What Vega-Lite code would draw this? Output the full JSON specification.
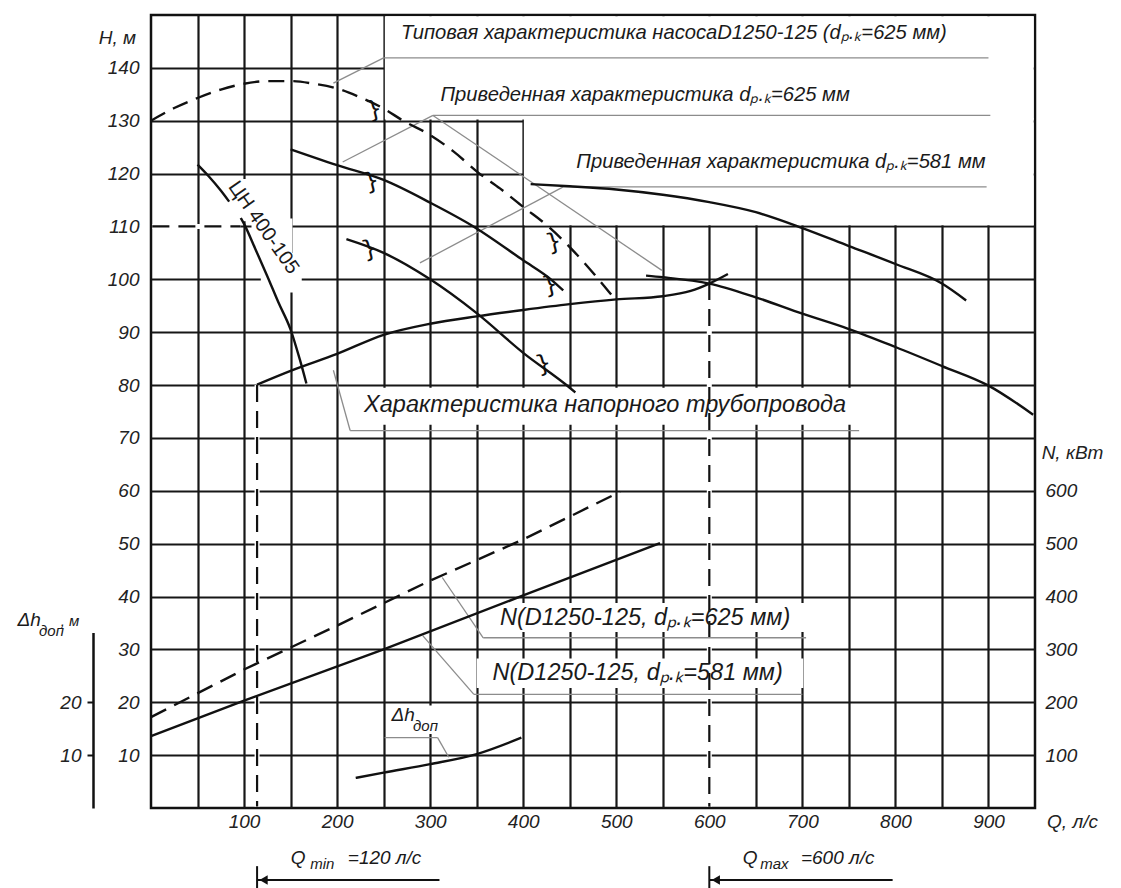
{
  "$schema": "https://vega.github.io/schema/vega-lite/v6.json",
  "width": 884,
  "height": 793,
  "autosize": {"type": "none"},
  "padding": {"left": 151, "top": 15, "right": 86, "bottom": 80},
  "background": "#ffffff",
  "config": {
    "view": {"stroke": "#111111", "strokeWidth": 2.5},
    "font": "Liberation Sans",
    "axis": {
      "labelFont": "Liberation Sans", "labelFontStyle": "italic", "labelFontSize": 19, "labelColor": "#222222",
      "titleFont": "Liberation Sans", "titleFontStyle": "italic", "titleFontWeight": "normal", "titleFontSize": 19, "titleColor": "#222222"
    },
    "text": {"font": "Liberation Sans", "fontStyle": "italic", "color": "#1a1a1a"}
  },
  "datasets": {
    "masks": [
      {"q0": 251.3, "q1": 948.6, "h0": 130.25, "h1": 149.75},
      {"q0": 400.7, "q1": 948.6, "h0": 110.25, "h1": 130.5},
      {"q0": 225, "q1": 753, "h0": 72.5, "h1": 79.5},
      {"q0": 358, "q1": 705, "h0": 33.3, "h1": 38.8},
      {"q0": 350, "q1": 701, "h0": 22.7, "h1": 28.3},
      {"q0": 262, "q1": 309, "h0": 14, "h1": 19.4},
      {"q0": 88, "q1": 113, "h0": 111, "h1": 119},
      {"q0": 108, "q1": 152, "h0": 104, "h1": 111.5},
      {"q0": 118, "q1": 162, "h0": 97.5, "h1": 105}
    ],
    "guides": [
      {"g": "a", "q": 1.5, "h": 110}, {"g": "a", "q": 96, "h": 110},
      {"g": "b", "q": 114, "h": 80}, {"g": "b", "q": 114, "h": 0.3},
      {"g": "c", "q": 600, "h": 99.3}, {"g": "c", "q": 600, "h": 0.3}
    ],
    "leaders": [
      {"g": "U1", "q": 250, "h": 141.9}, {"g": "U1", "q": 900, "h": 141.9},
      {"g": "L1", "q": 250, "h": 141.9}, {"g": "L1", "q": 196, "h": 137.1},
      {"g": "U2", "q": 303, "h": 131}, {"g": "U2", "q": 902, "h": 131},
      {"g": "L2a", "q": 303, "h": 131}, {"g": "L2a", "q": 206, "h": 122.2},
      {"g": "L2b", "q": 303, "h": 131}, {"g": "L2b", "q": 549, "h": 101.7},
      {"g": "U3", "q": 443, "h": 117.5}, {"g": "U3", "q": 898, "h": 117.5},
      {"g": "L3", "q": 443, "h": 117.5}, {"g": "L3", "q": 289, "h": 103.1},
      {"g": "U4", "q": 214, "h": 71.4}, {"g": "U4", "q": 761, "h": 71.4},
      {"g": "L4", "q": 214, "h": 71.4}, {"g": "L4", "q": 196, "h": 82.8},
      {"g": "U5", "q": 357, "h": 32.2}, {"g": "U5", "q": 704, "h": 32.2},
      {"g": "L5", "q": 357, "h": 32.2}, {"g": "L5", "q": 313, "h": 43.6},
      {"g": "U6", "q": 347, "h": 21.5}, {"g": "U6", "q": 700, "h": 21.5},
      {"g": "L6", "q": 347, "h": 21.5}, {"g": "L6", "q": 292, "h": 32.6},
      {"g": "U7", "q": 251, "h": 13.3}, {"g": "U7", "q": 308, "h": 13.3},
      {"g": "L7", "q": 308, "h": 13.3}, {"g": "L7", "q": 320, "h": 9.6}
    ],
    "curves": [
      {"s": "typ625", "q": 0, "h": 130}, {"s": "typ625", "q": 25, "h": 132.4}, {"s": "typ625", "q": 50, "h": 134.3},
      {"s": "typ625", "q": 75, "h": 135.9}, {"s": "typ625", "q": 100, "h": 137}, {"s": "typ625", "q": 125, "h": 137.5},
      {"s": "typ625", "q": 150, "h": 137.5}, {"s": "typ625", "q": 175, "h": 137}, {"s": "typ625", "q": 200, "h": 136.1},
      {"s": "typ625", "q": 225, "h": 134.4}, {"s": "typ625", "q": 250, "h": 132.3}, {"s": "typ625", "q": 271, "h": 130},
      {"s": "typ625", "q": 300, "h": 127.3}, {"s": "typ625", "q": 325, "h": 124.2}, {"s": "typ625", "q": 353, "h": 120},
      {"s": "typ625", "q": 375, "h": 117.2}, {"s": "typ625", "q": 400, "h": 113.7}, {"s": "typ625", "q": 427, "h": 110},
      {"s": "typ625", "q": 450, "h": 106.1}, {"s": "typ625", "q": 481, "h": 100}, {"s": "typ625", "q": 497, "h": 96.6},
      {"s": "pr625a", "q": 150, "h": 124.6}, {"s": "pr625a", "q": 200, "h": 121.6}, {"s": "pr625a", "q": 250, "h": 118.8},
      {"s": "pr625a", "q": 300, "h": 114.5}, {"s": "pr625a", "q": 346.5, "h": 110}, {"s": "pr625a", "q": 400, "h": 103.6},
      {"s": "pr625a", "q": 429.7, "h": 100}, {"s": "pr625a", "q": 443, "h": 97.9},
      {"s": "pr625b", "q": 532, "h": 100.7}, {"s": "pr625b", "q": 550, "h": 100.4}, {"s": "pr625b", "q": 600, "h": 99.2},
      {"s": "pr625b", "q": 650, "h": 96.6}, {"s": "pr625b", "q": 700, "h": 93.5}, {"s": "pr625b", "q": 750, "h": 90.6},
      {"s": "pr625b", "q": 800, "h": 87.2}, {"s": "pr625b", "q": 850, "h": 83.6}, {"s": "pr625b", "q": 900, "h": 79.9},
      {"s": "pr625b", "q": 948, "h": 74.4},
      {"s": "pr581a", "q": 210, "h": 107.6}, {"s": "pr581a", "q": 250, "h": 105}, {"s": "pr581a", "q": 300, "h": 100},
      {"s": "pr581a", "q": 350, "h": 93.6}, {"s": "pr581a", "q": 400, "h": 86.1}, {"s": "pr581a", "q": 450, "h": 79.5},
      {"s": "pr581a", "q": 456, "h": 78.6},
      {"s": "pr581b", "q": 408, "h": 118}, {"s": "pr581b", "q": 450, "h": 117.6}, {"s": "pr581b", "q": 500, "h": 117},
      {"s": "pr581b", "q": 550, "h": 116}, {"s": "pr581b", "q": 600, "h": 114.6}, {"s": "pr581b", "q": 650, "h": 112.7},
      {"s": "pr581b", "q": 700, "h": 109.7}, {"s": "pr581b", "q": 750, "h": 106.3}, {"s": "pr581b", "q": 800, "h": 102.9},
      {"s": "pr581b", "q": 850, "h": 99.2}, {"s": "pr581b", "q": 876, "h": 96},
      {"s": "pipe", "q": 114, "h": 80.1}, {"s": "pipe", "q": 150, "h": 82.7}, {"s": "pipe", "q": 200, "h": 85.9},
      {"s": "pipe", "q": 250, "h": 89.5}, {"s": "pipe", "q": 300, "h": 91.6}, {"s": "pipe", "q": 350, "h": 93},
      {"s": "pipe", "q": 400, "h": 94.2}, {"s": "pipe", "q": 450, "h": 95.3}, {"s": "pipe", "q": 500, "h": 96.2},
      {"s": "pipe", "q": 550, "h": 96.8}, {"s": "pipe", "q": 580, "h": 97.8}, {"s": "pipe", "q": 600, "h": 99.2},
      {"s": "pipe", "q": 620, "h": 101},
      {"s": "cn1", "q": 50, "h": 121.7}, {"s": "cn1", "q": 62, "h": 119.5}, {"s": "cn1", "q": 75, "h": 116.8},
      {"s": "cn1", "q": 84, "h": 114.7},
      {"s": "cn2", "q": 96.5, "h": 111.6}, {"s": "cn2", "q": 100, "h": 110.5}, {"s": "cn2", "q": 112, "h": 105.8},
      {"s": "cn2", "q": 125, "h": 100.6}, {"s": "cn2", "q": 137, "h": 95.6}, {"s": "cn2", "q": 150, "h": 90.5},
      {"s": "cn2", "q": 160, "h": 84.8}, {"s": "cn2", "q": 167, "h": 80.3}
    ],
    "ticks": [
      {"q": 240, "h": 132}, {"q": 237, "h": 118.4}, {"q": 235, "h": 105.6},
      {"q": 433, "h": 106.9}, {"q": 429, "h": 98.8}, {"q": 422, "h": 83.9}
    ],
    "labels": [
      {"t": "Типовая характеристика насосаD1250-125 (dₚ.ₖ=625 мм)", "q": 562, "h": 146.6, "sz": "T"},
      {"t": "Приведенная характеристика dₚ.ₖ=625 мм", "q": 531, "h": 134.8, "sz": "T"},
      {"t": "Приведенная характеристика dₚ.ₖ=581 мм", "q": 677, "h": 122.2, "sz": "T"},
      {"t": "Характеристика напорного трубопровода", "q": 488, "h": 76.2, "sz": "L"},
      {"t": "N(D1250-125, dₚ.ₖ=625 мм)", "q": 531, "h": 35.9, "sz": "L"},
      {"t": "N(D1250-125, dₚ.ₖ=581 мм)", "q": 523, "h": 25.5, "sz": "L"},
      {"t": "Δh", "q": 271, "h": 17.6, "sz": "M"},
      {"t": "доп", "q": 295, "h": 15.6, "sz": "S"},
      {"t": "Δh", "q": -131, "h": 35.6, "sz": "M"},
      {"t": "доп", "q": -107, "h": 33.4, "sz": "S"},
      {"t": ", м", "q": -87, "h": 35.4, "sz": "S"},
      {"t": "Q", "q": 158, "h": -9.4, "sz": "M"},
      {"t": "min", "q": 184, "h": -10.6, "sz": "S"},
      {"t": "=120 л/с", "q": 251, "h": -9.4, "sz": "M"},
      {"t": "Q", "q": 644, "h": -9.4, "sz": "M"},
      {"t": "max", "q": 670, "h": -10.6, "sz": "S"},
      {"t": "=600 л/с", "q": 738, "h": -9.4, "sz": "M"}
    ],
    "cnlabel": [{"t": "ЦН 400-105", "q": 121, "h": 109.8}],
    "qlines": [
      {"g": "amin", "q": 114, "h": -13.6}, {"g": "amin", "q": 310, "h": -13.6},
      {"g": "tmin", "q": 114, "h": -11}, {"g": "tmin", "q": 114, "h": -15.3},
      {"g": "amax", "q": 600, "h": -13.6}, {"g": "amax", "q": 797, "h": -13.6},
      {"g": "tmax", "q": 600, "h": -11}, {"g": "tmax", "q": 600, "h": -15.3}
    ],
    "heads": [{"q": 121, "h": -13.6}, {"q": 607, "h": -13.6}],
    "nlines": [
      {"s": "N625", "q": 0, "n": 172}, {"s": "N625", "q": 100, "n": 262}, {"s": "N625", "q": 200, "n": 345},
      {"s": "N625", "q": 300, "n": 430}, {"s": "N625", "q": 400, "n": 508}, {"s": "N625", "q": 504, "n": 598},
      {"s": "N581", "q": 0, "n": 136}, {"s": "N581", "q": 100, "n": 203}, {"s": "N581", "q": 250, "n": 300},
      {"s": "N581", "q": 400, "n": 402}, {"s": "N581", "q": 547, "n": 501}
    ],
    "dh": [
      {"q": 220, "d": 5.7}, {"q": 250, "d": 6.7}, {"q": 300, "d": 8.3}, {"q": 350, "d": 10.2}, {"q": 398, "d": 13.3}
    ]
  },
  "layer": [
    {
      "layer": [
        {
          "data": {"name": "masks"},
          "mark": {"type": "rect", "fill": "#ffffff"},
          "encoding": {
            "x": {"field": "q0", "type": "quantitative", "scale": {"domain": [0, 950], "nice": false, "zero": false},
              "axis": {"values": [50, 100, 150, 200, 250, 300, 350, 400, 450, 500, 550, 600, 650, 700, 750, 800, 850, 900],
                "labelExpr": "datum.value % 100 === 0 ? datum.label : ''", "grid": true, "gridColor": "#161616", "gridWidth": 2.2,
                "domain": false, "ticks": false, "labelPadding": 4, "labelOverlap": false, "labelFlush": false, "labelBound": false,
                "title": "Q, л/с", "titleX": 921, "titleY": 13, "titleAlign": "center", "titleBaseline": "middle"}},
            "x2": {"field": "q1"},
            "y": {"field": "h0", "type": "quantitative", "scale": {"domain": [0, 150], "nice": false},
              "axis": {"values": [10, 20, 30, 40, 50, 60, 70, 80, 90, 100, 110, 120, 130, 140], "grid": true, "gridColor": "#161616", "gridWidth": 2.2,
                "domain": false, "ticks": false, "labelPadding": 12, "labelOverlap": false, "labelFlush": false, "labelBound": false,
                "title": "H, м", "titleAngle": 0, "titleX": -34, "titleY": 22, "titleAlign": "center", "titleBaseline": "middle"}},
            "y2": {"field": "h1"}
          }
        },
        {
          "data": {"name": "guides"},
          "mark": {"type": "line", "color": "#ffffff", "strokeWidth": 5},
          "encoding": {
            "x": {"field": "q", "type": "quantitative", "scale": {"domain": [0, 950], "nice": false, "zero": false}},
            "y": {"field": "h", "type": "quantitative", "scale": {"domain": [0, 150], "nice": false}},
            "detail": {"field": "g"}
          }
        },
        {
          "data": {"name": "guides"},
          "mark": {"type": "line", "color": "#111111", "strokeWidth": 2.2, "strokeDash": [17, 9]},
          "encoding": {
            "x": {"field": "q", "type": "quantitative", "scale": {"domain": [0, 950], "nice": false, "zero": false}},
            "y": {"field": "h", "type": "quantitative", "scale": {"domain": [0, 150], "nice": false}},
            "detail": {"field": "g"}
          }
        },
        {
          "data": {"name": "leaders"},
          "mark": {"type": "line", "color": "#8c8c8c", "strokeWidth": 1.3},
          "encoding": {
            "x": {"field": "q", "type": "quantitative", "scale": {"domain": [0, 950], "nice": false, "zero": false}},
            "y": {"field": "h", "type": "quantitative", "scale": {"domain": [0, 150], "nice": false}},
            "detail": {"field": "g"}
          }
        },
        {
          "data": {"name": "curves"},
          "transform": [{"filter": "datum.s === 'typ625'"}],
          "mark": {"type": "line", "color": "#111111", "strokeWidth": 2.4, "strokeDash": [16, 9], "interpolate": "monotone"},
          "encoding": {
            "x": {"field": "q", "type": "quantitative", "scale": {"domain": [0, 950], "nice": false, "zero": false}},
            "y": {"field": "h", "type": "quantitative", "scale": {"domain": [0, 150], "nice": false}},
            "detail": {"field": "s"}
          }
        },
        {
          "data": {"name": "curves"},
          "transform": [{"filter": "datum.s !== 'typ625'"}],
          "mark": {"type": "line", "color": "#111111", "strokeWidth": 2.4, "interpolate": "monotone"},
          "encoding": {
            "x": {"field": "q", "type": "quantitative", "scale": {"domain": [0, 950], "nice": false, "zero": false}},
            "y": {"field": "h", "type": "quantitative", "scale": {"domain": [0, 150], "nice": false}},
            "detail": {"field": "s"}
          }
        },
        {
          "data": {"name": "ticks"},
          "mark": {"type": "text", "text": "}", "fontSize": 24, "fontStyle": "normal", "font": "DejaVu Sans", "angle": -15, "color": "#111111", "align": "center", "baseline": "middle"},
          "encoding": {
            "x": {"field": "q", "type": "quantitative", "scale": {"domain": [0, 950], "nice": false, "zero": false}},
            "y": {"field": "h", "type": "quantitative", "scale": {"domain": [0, 150], "nice": false}}
          }
        },
        {
          "data": {"name": "labels"},
          "transform": [{"filter": "datum.sz === 'T'"}],
          "mark": {"type": "text", "fontSize": 20.2, "align": "center", "baseline": "middle"},
          "encoding": {
            "x": {"field": "q", "type": "quantitative", "scale": {"domain": [0, 950], "nice": false, "zero": false}},
            "y": {"field": "h", "type": "quantitative", "scale": {"domain": [0, 150], "nice": false}},
            "text": {"field": "t"}
          }
        },
        {
          "data": {"name": "labels"},
          "transform": [{"filter": "datum.sz === 'L'"}],
          "mark": {"type": "text", "fontSize": 23.5, "align": "center", "baseline": "middle"},
          "encoding": {
            "x": {"field": "q", "type": "quantitative", "scale": {"domain": [0, 950], "nice": false, "zero": false}},
            "y": {"field": "h", "type": "quantitative", "scale": {"domain": [0, 150], "nice": false}},
            "text": {"field": "t"}
          }
        },
        {
          "data": {"name": "labels"},
          "transform": [{"filter": "datum.sz === 'M'"}],
          "mark": {"type": "text", "fontSize": 19, "align": "center", "baseline": "middle"},
          "encoding": {
            "x": {"field": "q", "type": "quantitative", "scale": {"domain": [0, 950], "nice": false, "zero": false}},
            "y": {"field": "h", "type": "quantitative", "scale": {"domain": [0, 150], "nice": false}},
            "text": {"field": "t"}
          }
        },
        {
          "data": {"name": "labels"},
          "transform": [{"filter": "datum.sz === 'S'"}],
          "mark": {"type": "text", "fontSize": 15, "align": "center", "baseline": "middle"},
          "encoding": {
            "x": {"field": "q", "type": "quantitative", "scale": {"domain": [0, 950], "nice": false, "zero": false}},
            "y": {"field": "h", "type": "quantitative", "scale": {"domain": [0, 150], "nice": false}},
            "text": {"field": "t"}
          }
        },
        {
          "data": {"name": "cnlabel"},
          "mark": {"type": "text", "fontSize": 20, "fontStyle": "normal", "angle": 55, "align": "center", "baseline": "middle"},
          "encoding": {
            "x": {"field": "q", "type": "quantitative", "scale": {"domain": [0, 950], "nice": false, "zero": false}},
            "y": {"field": "h", "type": "quantitative", "scale": {"domain": [0, 150], "nice": false}},
            "text": {"field": "t"}
          }
        },
        {
          "data": {"name": "qlines"},
          "mark": {"type": "line", "color": "#111111", "strokeWidth": 2},
          "encoding": {
            "x": {"field": "q", "type": "quantitative", "scale": {"domain": [0, 950], "nice": false, "zero": false}},
            "y": {"field": "h", "type": "quantitative", "scale": {"domain": [0, 150], "nice": false}},
            "detail": {"field": "g"}
          }
        },
        {
          "data": {"name": "heads"},
          "mark": {"type": "point", "shape": "triangle-left", "size": 90, "filled": true, "color": "#111111", "opacity": 1},
          "encoding": {
            "x": {"field": "q", "type": "quantitative", "scale": {"domain": [0, 950], "nice": false, "zero": false}},
            "y": {"field": "h", "type": "quantitative", "scale": {"domain": [0, 150], "nice": false}}
          }
        }
      ]
    },
    {
      "data": {"name": "nlines"},
      "layer": [
        {
          "transform": [{"filter": "datum.s === 'N625'"}],
          "mark": {"type": "line", "color": "#111111", "strokeWidth": 2.4, "strokeDash": [17, 9]},
          "encoding": {
            "x": {"field": "q", "type": "quantitative", "scale": {"domain": [0, 950], "nice": false, "zero": false}},
            "y": {"field": "n", "type": "quantitative", "scale": {"domain": [0, 1500], "nice": false},
              "axis": {"orient": "right", "values": [100, 200, 300, 400, 500, 600], "grid": false, "domain": false, "ticks": false, "labelPadding": 10,
                "title": "N, кВт", "titleAngle": 0, "titleX": 37, "titleY": 437, "titleAlign": "center", "titleBaseline": "middle"}}
          }
        },
        {
          "transform": [{"filter": "datum.s === 'N581'"}],
          "mark": {"type": "line", "color": "#111111", "strokeWidth": 2.4},
          "encoding": {
            "x": {"field": "q", "type": "quantitative", "scale": {"domain": [0, 950], "nice": false, "zero": false}},
            "y": {"field": "n", "type": "quantitative", "scale": {"domain": [0, 1500], "nice": false},
              "axis": {"orient": "right", "values": [100, 200, 300, 400, 500, 600], "grid": false, "domain": false, "ticks": false, "labelPadding": 10,
                "title": "N, кВт", "titleAngle": 0, "titleX": 37, "titleY": 437, "titleAlign": "center", "titleBaseline": "middle"}}
          }
        }
      ]
    },
    {
      "data": {"name": "dh"},
      "mark": {"type": "line", "color": "#111111", "strokeWidth": 2.4, "interpolate": "monotone"},
      "encoding": {
        "x": {"field": "q", "type": "quantitative", "scale": {"domain": [0, 950], "nice": false, "zero": false}},
        "y": {"field": "d", "type": "quantitative", "scale": {"domain": [0, 33.2], "range": [793, 617.5], "nice": false},
          "axis": {"orient": "left", "offset": 58, "values": [10, 20], "grid": false, "domain": true, "domainColor": "#111111", "domainWidth": 2.5,
            "ticks": true, "tickColor": "#111111", "tickWidth": 2, "tickSize": 6, "labelPadding": 6, "title": null}}
      }
    }
  ],
  "resolve": {"scale": {"y": "independent"}}
}
